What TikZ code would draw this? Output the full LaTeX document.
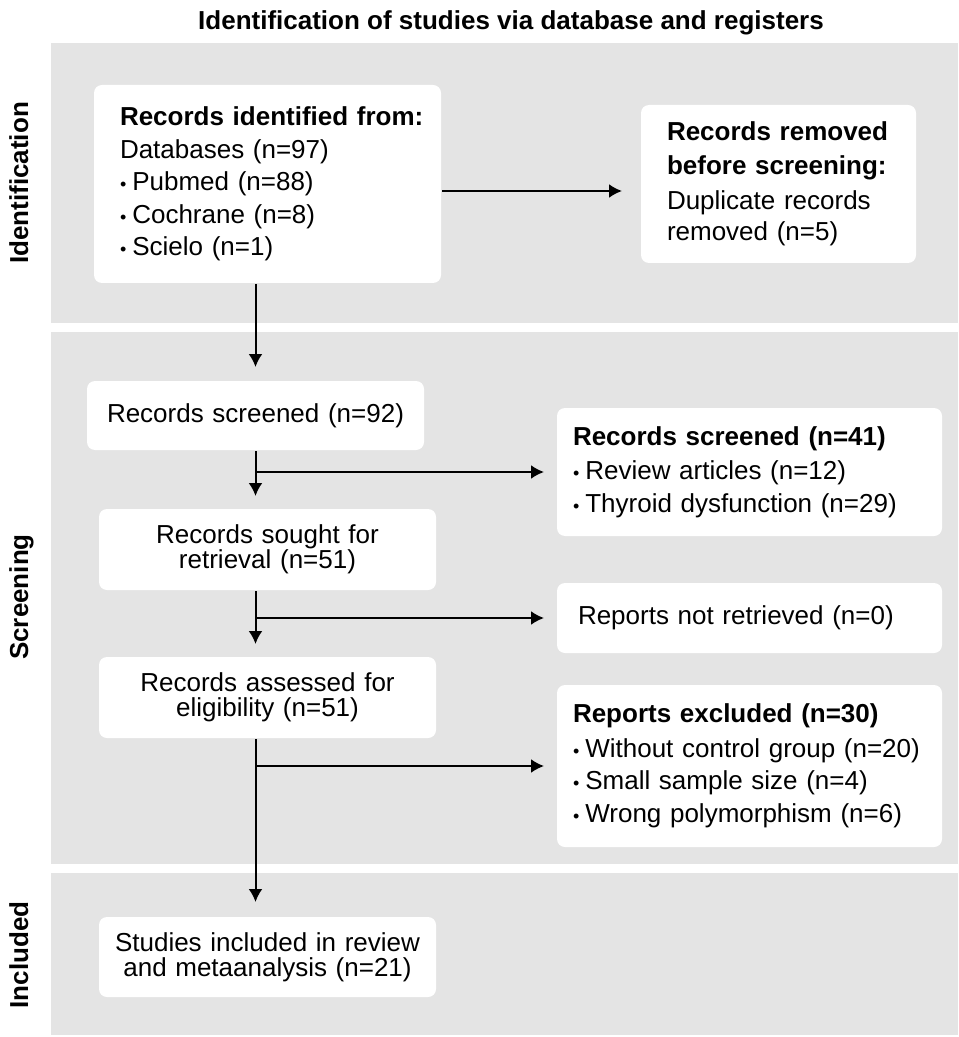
\documentclass[tikz,border=0pt]{standalone}
\usepackage{fontspec}
\setmainfont{Liberation Sans}
\usetikzlibrary{arrows.meta}
\definecolor{bandgray}{RGB}{228,228,228}
\newcommand{\bul}{{\fontsize{9}{9}\selectfont\textbullet}\hspace{3pt}}
\tikzset{
  box/.style={fill=white, rounded corners=4pt, inner ysep=0pt},
  cbox/.style={box, align=center, text width=168.5pt, inner xsep=0pt,
    font=\fontsize{13}{12.4}\selectfont},
  lbox/.style={box, align=left, font=\fontsize{13}{16.25}\selectfont},
  side/.style={rotate=90, anchor=base, font=\bfseries\fontsize{13}{15.75}\selectfont}
}
\begin{document}
\begin{tikzpicture}[>={Latex[length=6.5pt,width=7pt]}, x=.5pt, y=-.5pt, line width=1pt]
\useasboundingbox (0,0) rectangle (958,1037);
\fill[bandgray] (51,43) rectangle (958,323);
\fill[bandgray] (51,332) rectangle (958,864);
\fill[bandgray] (51,873) rectangle (958,1035);

\node[anchor=base, font=\bfseries\fontsize{13}{15.75}\selectfont] (title) at (511,30)
  {Identification of studies via database and registers};
\node[side] (lblid) at (28,183) {Identification};
\node[side] (lblscr) at (28,597) {Screening};
\node[side] (lblinc) at (28,955) {Included};

% identification
\node[lbox, text width=147.5pt, inner xsep=13pt, minimum height=99pt] (ident) at (267.5,184)
  {\mbox{\textbf{Records identified from:}}\\
   Databases (n=97)\\ \bul Pubmed (n=88)\\ \bul Cochrane (n=8)\\ \bul Scielo (n=1)};
\node[lbox, text width=111.5pt, inner xsep=13pt, minimum height=79pt] (removed) at (778.5,184)
  {\textbf{Records removed}\\[0.5pt] \textbf{before screening:}\\[1.5pt]
   Duplicate records\\[-1pt] removed (n=5)};

% screening
\node[cbox, minimum height=34.5pt] (scr) at (255.5,415.5) {Records screened (n=92)};
\node[lbox, text width=176.5pt, inner xsep=8pt, minimum height=64pt] (excl1) at (749.5,472)
  {\textbf{Records screened (n=41)}\\[1pt]
   \bul Review articles (n=12)\\ \bul Thyroid dysfunction (n=29)};
\node[cbox, minimum height=40.5pt] (sought) at (267.5,549.5) {Records sought for\\ retrieval (n=51)};
\node[lbox, text width=171.5pt, inner xsep=10.5pt, minimum height=35pt] (notret) at (749.5,618)
  {Reports not retrieved (n=0)};
\node[cbox, minimum height=40.5pt] (assess) at (267.5,697.5) {Records assessed for\\ eligibility (n=51)};
\node[lbox, text width=176.5pt, inner xsep=8pt, minimum height=81pt] (excl2) at (749.5,766)
  {\textbf{Reports excluded (n=30)}\\[1pt]
   \bul Without control group (n=20)\\ \bul Small sample size (n=4)\\ \bul Wrong polymorphism (n=6)};

% included
\node[cbox, minimum height=40pt] (incl) at (267.5,957) {Studies included in review\\ and metaanalysis (n=21)};

\draw[->, shorten >=9pt] ([yshift=-3.5pt]ident.east) -- ([yshift=-3.5pt]removed.west);
\draw[->, shorten >=6.5pt] (ident.south -| scr.north) -- (scr.north);
\draw[->, shorten >=6pt] (scr.south) -- (scr.south |- sought.north);
\draw[->, shorten >=6pt] (sought.south -| scr.south) -- (scr.south |- assess.north);
\draw[->, shorten >=7pt] (assess.south -| scr.south) -- (scr.south |- incl.north);
\draw[->, shorten >=6pt] (scr.south |- excl1.west) -- (excl1.west);
\draw[->, shorten >=6pt] (scr.south |- notret.west) -- (notret.west);
\draw[->, shorten >=6pt] (scr.south |- excl2.west) -- (excl2.west);
\end{tikzpicture}
\end{document}
